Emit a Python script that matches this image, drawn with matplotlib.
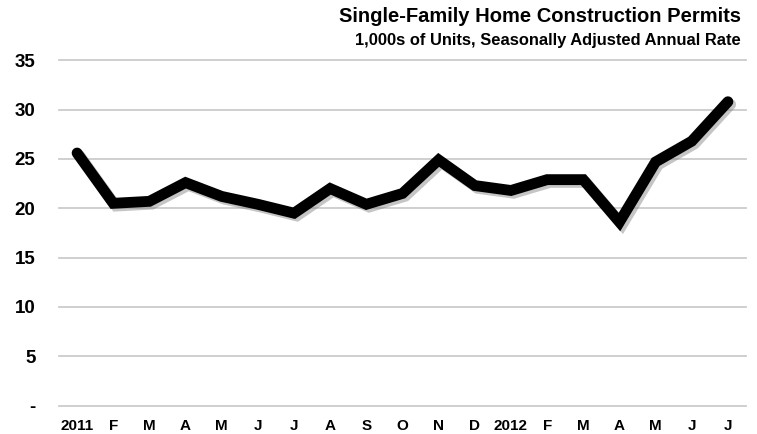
import numpy as np
import matplotlib
matplotlib.use("Agg")
import matplotlib.pyplot as plt
import matplotlib.patheffects as pe

# monthly permits, 1,000s of units (SAAR), Jan 2011 - Jul 2012
months = ["2011", "F", "M", "A", "M", "J", "J", "A", "S", "O", "N", "D",
          "2012", "F", "M", "A", "M", "J", "J"]
permits = [25.6, 20.5, 20.7, 22.6, 21.2, 20.4, 19.5, 22.0, 20.4, 21.5,
           24.9, 22.3, 21.8, 22.9, 22.9, 18.6, 24.7, 26.8, 30.8]
yticks = [0, 5, 10, 15, 20, 25, 30, 35]
ytick_labels = ["-", "5", "10", "15", "20", "25", "30", "35"]

plt.rcParams['font.family'] = ['Liberation Sans', 'DejaVu Sans']

fig = plt.figure(figsize=(7.57, 4.34), dpi=100)
ax = fig.add_axes([59 / 757, 1 - 405.5 / 434, (746 - 59) / 757, (405.5 - 60.3) / 434])

x = np.arange(len(months))
ax.plot(x, permits, color="black", lw=7.8, solid_joinstyle="miter",
        solid_capstyle="round",
        path_effects=[pe.SimpleLineShadow(offset=(2, -2), shadow_color="gray", alpha=0.45),
                      pe.Normal()], zorder=3)

ax.set_xlim(-0.5, 18.5)
ax.set_ylim(0, 35)
ax.set_yticks(yticks)
ax.set_yticklabels(ytick_labels, fontsize=13.5, fontweight="bold")
ax.set_xticks(x)
ax.set_xticklabels(months, fontsize=11, fontweight="bold")
ax.tick_params(axis="both", length=0)
ax.tick_params(axis="y", pad=17)
ax.tick_params(axis="x", pad=10)

ax.grid(axis="y", color="#cccccc", lw=1.3)
ax.set_axisbelow(True)
for s in ax.spines.values():
    s.set_visible(False)
for gl in ax.get_ygridlines():
    gl.set_clip_on(False)

fig.text(741 / 757, 1 - 17 / 434, "Single-Family Home Construction Permits",
         ha="right", va="center", fontsize=14.5, fontweight="bold")
fig.text(741 / 757, 1 - 40 / 434, "1,000s of Units, Seasonally Adjusted Annual Rate",
         ha="right", va="center", fontsize=11.9, fontweight="bold")

fig.savefig("out.png", dpi=100)
